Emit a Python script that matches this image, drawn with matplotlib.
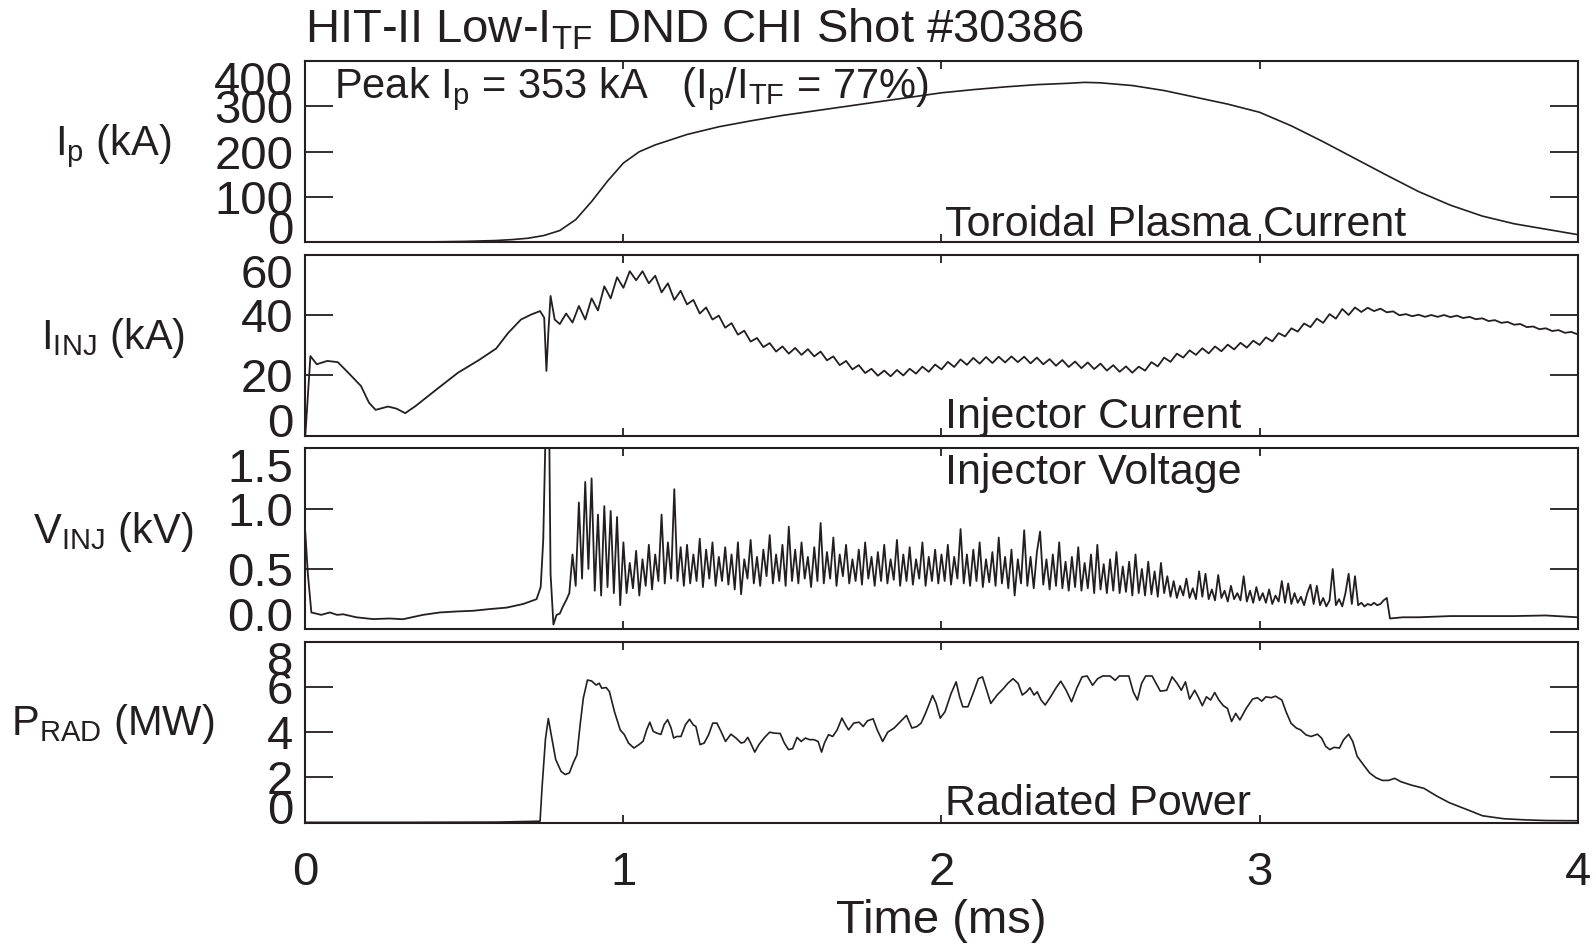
import numpy as np
import matplotlib
matplotlib.use("Agg")
import matplotlib.pyplot as plt
from matplotlib.transforms import ScaledTranslation

plt.rcParams['font.family'] = ['Liberation Sans', 'DejaVu Sans']
plt.rcParams['mathtext.fontset'] = 'custom'
plt.rcParams['mathtext.rm'] = 'Liberation Sans'
plt.rcParams['mathtext.it'] = 'Liberation Sans'
plt.rcParams['mathtext.default'] = 'regular'

# --- toroidal plasma current (kA) ---
ip_t = [0.0, 0.2, 0.4, 0.5, 0.6, 0.65, 0.7, 0.75, 0.8, 0.85,
        0.9, 0.95, 1.0, 1.05, 1.1, 1.2, 1.3, 1.4, 1.5, 1.6,
        1.7, 1.8, 1.9, 2.0, 2.1, 2.2, 2.3, 2.4, 2.45, 2.5,
        2.6, 2.7, 2.8, 2.9, 3.0, 3.1, 3.2, 3.3, 3.4, 3.5,
        3.6, 3.7, 3.8, 3.9, 4.0]
ip_ka = [0, 0.5, 1, 2, 4, 6, 9, 15, 26, 50,
         90, 135, 175, 200, 215, 238, 255, 268, 280, 290,
         300, 310, 320, 330, 337, 343, 348, 351, 353, 352,
         346, 335, 320, 305, 287, 257, 222, 185, 148, 112,
         82, 58, 41, 29, 17]

# --- injector current (kA): start-up part, then 0.02 ms samples from 0.80 ms ---
iinj_t_early = [0.0, 0.016, 0.036, 0.069, 0.102, 0.135, 0.175, 0.2, 0.221, 0.26,
                0.287, 0.314, 0.347, 0.413, 0.48, 0.546, 0.6, 0.638, 0.678, 0.711,
                0.738, 0.751, 0.758, 0.764, 0.771, 0.784]
iinj_early = [0.0, 26.4, 23.7, 24.8, 24.4, 20.9, 16.5, 11.0, 8.6, 9.7,
              9.0, 7.5, 9.9, 15.4, 20.9, 25.1, 28.9, 34.1, 38.5, 40.2,
              41.3, 39.1, 21.5, 34.1, 46.3, 38.5]
iinj_late = [37.0, 40.5, 37.5, 43.0, 38.5, 45.5, 41.5, 49.5, 45.5, 52.5,
             49.0, 54.5, 51.5, 54.5, 50.5, 53.0, 47.5, 50.5, 45.0, 48.0,
             43.5, 45.0, 40.5, 42.5, 38.5, 39.8, 35.8, 37.3, 33.5, 34.8,
             31.2, 32.4, 29.4, 30.7, 27.9, 29.6, 27.2, 29.1, 26.8, 28.7,
             26.3, 27.9, 25.0, 26.3, 23.4, 24.8, 22.0, 23.4, 20.8, 22.2,
             19.9, 21.6, 19.7, 21.8, 20.0, 22.2, 20.6, 22.9, 21.2, 23.6,
             22.0, 24.5, 22.8, 25.3, 23.5, 25.8, 23.9, 26.1, 24.1, 26.2,
             24.3, 26.3, 24.4, 26.2, 24.0, 25.9, 23.7, 25.4, 23.2, 25.1,
             22.8, 24.6, 22.4, 24.3, 22.1, 23.9, 21.6, 23.4, 21.2, 23.0,
             20.9, 22.9, 21.6, 24.4, 23.0, 25.9, 24.5, 27.2, 25.9, 28.3,
             26.8, 29.0, 27.3, 29.6, 28.0, 30.2, 28.6, 30.8, 29.2, 31.5,
             30.1, 32.6, 31.3, 34.0, 32.9, 35.6, 34.5, 37.2, 36.0, 38.8,
             37.4, 40.3, 38.8, 42.0, 40.0, 42.5, 41.0, 42.4, 41.3, 42.1,
             40.9, 41.2, 39.9, 40.3, 39.6, 40.1, 39.4, 40.0, 39.4, 40.0,
             39.3, 39.8, 39.0, 39.4, 38.6, 38.9, 38.0, 38.3, 37.4, 37.7,
             36.8, 37.0, 36.0, 36.2, 35.3, 35.6, 34.7, 35.0, 34.1, 34.4,
             33.6]

# --- injector voltage (kV): start-up, 0.01 ms samples 0.80-3.40 ms, tail ---
vinj_t_early = [0.0, 0.008, 0.019, 0.035, 0.05, 0.077, 0.1, 0.119, 0.16, 0.213,
                0.265, 0.307, 0.37, 0.423, 0.475, 0.528, 0.58, 0.633, 0.685, 0.727,
                0.74, 0.748, 0.755, 0.767, 0.771, 0.78, 0.79]
vinj_early = [0.80, 0.46, 0.14, 0.13, 0.12, 0.14, 0.12, 0.125, 0.10, 0.085,
              0.09, 0.084, 0.12, 0.14, 0.148, 0.154, 0.168, 0.18, 0.21, 0.25,
              0.35, 0.74, 1.6, 1.6, 0.46, 0.04, 0.12]
vinj_mid = [0.13, 0.19, 0.24, 0.30, 0.62, 0.36, 1.05, 0.42, 1.22, 0.50,
            1.25, 0.32, 0.95, 0.28, 1.02, 0.35, 0.98, 0.30, 0.93, 0.20,
            0.72, 0.30, 0.55, 0.34, 0.65, 0.28, 0.58, 0.36, 0.70, 0.33,
            0.62, 0.40, 0.95, 0.38, 0.72, 0.42, 1.16, 0.40, 0.68, 0.36,
            0.70, 0.38, 0.62, 0.40, 0.75, 0.35, 0.66, 0.42, 0.72, 0.36,
            0.60, 0.40, 0.68, 0.37, 0.62, 0.33, 0.72, 0.29, 0.58, 0.42,
            0.74, 0.38, 0.60, 0.36, 0.66, 0.44, 0.78, 0.38, 0.62, 0.40,
            0.70, 0.36, 0.85, 0.40, 0.66, 0.38, 0.72, 0.42, 0.60, 0.35,
            0.68, 0.40, 0.88, 0.38, 0.64, 0.42, 0.76, 0.36, 0.62, 0.44,
            0.70, 0.38, 0.58, 0.40, 0.66, 0.37, 0.72, 0.42, 0.60, 0.36,
            0.64, 0.40, 0.70, 0.38, 0.58, 0.41, 0.74, 0.36, 0.62, 0.40,
            0.68, 0.37, 0.58, 0.42, 0.72, 0.36, 0.60, 0.40, 0.66, 0.38,
            0.62, 0.40, 0.70, 0.37, 0.60, 0.42, 0.83, 0.38, 0.62, 0.36,
            0.66, 0.40, 0.72, 0.35, 0.58, 0.39, 0.64, 0.36, 0.76, 0.38,
            0.60, 0.34, 0.66, 0.28, 0.58, 0.38, 0.82, 0.36, 0.60, 0.34,
            0.64, 0.81, 0.37, 0.58, 0.33, 0.62, 0.36, 0.72, 0.34, 0.56,
            0.32, 0.60, 0.35, 0.68, 0.32, 0.55, 0.34, 0.62, 0.30, 0.70,
            0.33, 0.54, 0.30, 0.58, 0.32, 0.64, 0.30, 0.52, 0.31, 0.56,
            0.28, 0.62, 0.30, 0.50, 0.28, 0.56, 0.29, 0.48, 0.27, 0.55,
            0.30, 0.44, 0.27, 0.40, 0.26, 0.36, 0.28, 0.42, 0.26, 0.34,
            0.25, 0.48, 0.27, 0.46, 0.25, 0.33, 0.24, 0.45, 0.26, 0.32,
            0.23, 0.36, 0.25, 0.30, 0.24, 0.44, 0.23, 0.32, 0.22, 0.35,
            0.24, 0.30, 0.22, 0.33, 0.21, 0.28, 0.23, 0.40, 0.22, 0.38,
            0.21, 0.30, 0.22, 0.27, 0.20, 0.30, 0.37, 0.21, 0.36, 0.20,
            0.26, 0.19, 0.24, 0.50, 0.20, 0.25, 0.19, 0.30, 0.46, 0.21,
            0.44, 0.20, 0.22, 0.19, 0.21, 0.20, 0.22, 0.20, 0.21, 0.24,
            0.26]
vinj_t_tail = [3.41, 3.45, 3.5, 3.6, 3.7, 3.8, 3.9, 4.0]
vinj_tail = [0.09, 0.10, 0.10, 0.11, 0.11, 0.11, 0.115, 0.10]

# --- radiated power (MW) ---
prad_t = [0.0, 0.3, 0.6, 0.738,
          0.744, 0.755, 0.764, 0.773, 0.787, 0.804, 0.817, 0.83, 0.844, 0.854,
          0.864, 0.874, 0.887, 0.9, 0.914, 0.924, 0.932, 0.946, 0.956, 0.972,
          0.99, 1.003, 1.016, 1.033, 1.049, 1.062, 1.073, 1.083, 1.094, 1.105,
          1.118, 1.128, 1.139, 1.15, 1.158, 1.168, 1.181, 1.195, 1.208, 1.219,
          1.228, 1.241, 1.254, 1.268, 1.281, 1.294, 1.307, 1.321, 1.338, 1.354,
          1.37, 1.38, 1.391, 1.4, 1.413, 1.426, 1.444, 1.46, 1.473, 1.493,
          1.506, 1.519, 1.532, 1.546, 1.559, 1.572, 1.585, 1.599, 1.612, 1.623,
          1.632, 1.645, 1.658, 1.672, 1.687, 1.698, 1.708, 1.724, 1.741, 1.754,
          1.767, 1.785, 1.798, 1.815, 1.831, 1.851, 1.871, 1.89, 1.907, 1.923,
          1.936, 1.95, 1.972, 1.983, 1.996, 2.011, 2.03, 2.046, 2.057, 2.067,
          2.083, 2.099, 2.116, 2.129, 2.142, 2.155, 2.175, 2.195, 2.208, 2.225,
          2.241, 2.254, 2.267, 2.278, 2.291, 2.301, 2.313, 2.326, 2.343, 2.359,
          2.375, 2.392, 2.409, 2.425, 2.442, 2.458, 2.475, 2.491, 2.507, 2.53,
          2.546, 2.559, 2.576, 2.589, 2.603, 2.616, 2.629, 2.642, 2.662, 2.675,
          2.688, 2.708, 2.725, 2.741, 2.754, 2.767, 2.78, 2.796, 2.807, 2.82,
          2.833, 2.846, 2.859, 2.872, 2.886, 2.899, 2.912, 2.925, 2.938, 2.958,
          2.978, 2.993, 3.007, 3.02, 3.037, 3.05, 3.07, 3.083, 3.099, 3.116,
          3.129, 3.146, 3.162, 3.182, 3.195, 3.208, 3.221, 3.234, 3.251, 3.264,
          3.28, 3.293, 3.307, 3.326, 3.346, 3.366, 3.386, 3.405, 3.425, 3.445,
          3.478, 3.517, 3.557, 3.596, 3.649, 3.701, 3.767, 3.833, 3.899, 4.0]
prad_mw = [0.02, 0.02, 0.03, 0.07,
           1.5, 3.7, 4.6, 3.9, 2.8, 2.27, 2.13, 2.2, 2.7, 3.0,
           4.33, 5.5, 6.3, 6.26, 6.08, 6.16, 5.94, 5.97, 5.79, 4.9,
           4.1, 3.89, 3.52, 3.3, 3.45, 3.6, 4.1, 4.44, 4.03, 3.96,
           3.9, 4.33, 4.55, 4.18, 3.74, 3.81, 3.81, 4.33, 4.57, 4.33,
           4.25, 3.45, 3.52, 3.89, 4.4, 4.4, 4.03, 3.59, 3.91, 3.74,
           3.52, 3.56, 3.77, 3.52, 3.12, 3.45, 3.77, 4.0, 3.96, 3.94,
           3.52, 3.23, 3.27, 3.77, 3.59, 3.74, 3.67, 3.67, 3.59, 3.12,
           3.52, 3.89, 3.81, 4.1, 4.62, 4.33, 4.1, 4.4, 4.44, 4.25,
           4.5, 4.59, 4.1, 3.59, 4.0, 4.18, 4.47, 4.74, 4.18, 4.25,
           4.4, 4.84, 5.62, 5.28, 4.62, 4.9, 5.7, 6.22, 5.56, 5.12,
           5.12, 5.7, 6.36, 6.44, 5.85, 5.27, 5.64, 5.93, 6.15, 6.36,
           6.15, 5.64, 5.78, 5.96, 5.64, 5.78, 5.42, 5.2, 5.56, 5.93,
           6.25, 5.85, 5.34, 5.93, 6.44, 6.48, 6.07, 6.36, 6.48, 6.48,
           6.29, 6.48, 6.48, 6.48, 5.78, 5.42, 6.15, 6.48, 6.48, 6.15,
           5.81, 5.85, 6.44, 6.15, 5.85, 6.22, 5.46, 5.85, 5.56, 5.17,
           5.56, 5.42, 5.75, 5.42, 5.17, 5.05, 4.47, 4.83, 4.54, 5.05,
           5.46, 5.52, 5.37, 5.56, 5.52, 5.59, 5.42, 4.91, 4.39, 4.18,
           4.1, 3.88, 3.81, 3.91, 3.74, 3.37, 3.23, 3.33, 3.3, 3.66,
           3.91, 3.59, 2.93, 2.57, 2.2, 1.99, 1.87, 1.87, 1.96, 1.81,
           1.66, 1.52, 1.18, 0.89, 0.6, 0.31, 0.18, 0.13, 0.1, 0.09]

x_ticks = [0, 1, 2, 3, 4]
x_tick_labels = ['0', '1', '2', '3', '4']

LINE = '#231f20'
FS = 30        # panel names and captions
FS_BIG = 34    # title, tick labels, x axis title


def main():
    iinj_t = list(iinj_t_early) + list(0.80 + 0.02 * np.arange(len(iinj_late)))
    iinj = list(iinj_early) + list(iinj_late)
    vinj_t = (list(vinj_t_early) + list(0.80 + 0.01 * np.arange(len(vinj_mid)))
              + list(vinj_t_tail))
    vinj = list(vinj_early) + list(vinj_mid) + list(vinj_tail)

    panels = [
        dict(t=ip_t, y=ip_ka, ylim=(0, 400), ticks=[0, 100, 200, 300, 400],
             labels=['0', '100', '200', '300', '400'],
             name=r'I$_p$ (kA)', name_y=0.836,
             note='Toroidal Plasma Current', note_y=13.5, lw=1.2),
        dict(t=iinj_t, y=iinj, ylim=(0, 60), ticks=[0, 20, 40, 60],
             labels=['0', '20', '40', '60'],
             name=r'I$_{INJ}$ (kA)', name_y=0.630,
             note='Injector Current', note_y=2.7, lw=1.3),
        dict(t=vinj_t, y=vinj, ylim=(0, 1.5), ticks=[0, 0.5, 1.0, 1.5],
             labels=['0.0', '0.5', '1.0', '1.5'],
             name=r'V$_{INJ}$ (kV)', name_y=0.425,
             note='Injector Voltage', note_y=1.205, lw=1.3),
        dict(t=prad_t, y=prad_mw, ylim=(0, 8), ticks=[0, 2, 4, 6, 8],
             labels=['0', '2', '4', '6', '8'],
             name=r'P$_{RAD}$ (MW)', name_y=0.221,
             note='Radiated Power', note_y=0.36, lw=1.2),
    ]

    fig = plt.figure(figsize=(15.96, 9.44), dpi=100)
    left, width, height = 0.1913, 0.7972, 0.192
    bottoms = [0.7433, 0.5383, 0.3333, 0.1284]

    for i, (p, b) in enumerate(zip(panels, bottoms)):
        ax = fig.add_axes([left, b, width, height])
        ax.plot(p['t'], p['y'], color=LINE, lw=p['lw'])
        ax.set_xlim(0, 4)
        ax.set_ylim(*p['ylim'])
        for s in ax.spines.values():
            s.set_linewidth(1.5)
            s.set_color(LINE)

        ax.set_yticks(p['ticks'])
        ax.set_yticklabels([])
        ax.tick_params(axis='y', direction='in', length=20, width=1.3,
                       left=True, right=True, colors=LINE)
        ax.set_xticks(x_ticks)
        ax.tick_params(axis='x', direction='in', length=6, width=1.3,
                       top=True, bottom=True, colors=LINE, pad=20,
                       labelsize=FS_BIG, labelcolor=LINE)
        if i == len(panels) - 1:
            ax.set_xticklabels(x_tick_labels)
        else:
            ax.set_xticklabels([])

        # y tick labels, end labels pulled inside the frame as in the original
        n = len(p['ticks'])
        for k, (v, lab) in enumerate(zip(p['ticks'], p['labels'])):
            dy = 0.0
            if k == 0:
                dy = 0.155
            elif k == n - 1:
                dy = -0.165
            tr = ax.get_yaxis_transform() + ScaledTranslation(-0.12, dy, fig.dpi_scale_trans)
            ax.text(0, v, lab, transform=tr, ha='right', va='center_baseline',
                    fontsize=FS_BIG, color=LINE, clip_on=False)

        ax.text(2.01, p['note_y'], p['note'], fontsize=FS + 1, color=LINE,
                ha='left', va='baseline')
        fig.text(0.0708, p['name_y'], p['name'], fontsize=FS, color=LINE,
                 ha='center', va='baseline')

        if i == 0:
            ax.text(0.09, 319, r'Peak I$_p$ = 353 kA   (I$_p$/I$_{TF}$ = 77%)',
                    fontsize=FS, color=LINE, ha='left', va='baseline')

    fig.text(left, 0.9547, r'HIT-II Low-I$_{TF}$ DND CHI Shot #30386',
             fontsize=FS_BIG, color=LINE, ha='left', va='baseline')
    fig.text(left + width / 2, 0.024, 'Time (ms)', fontsize=FS_BIG, color=LINE,
             ha='center', va='center')

    fig.savefig('out.png', dpi=100)


if __name__ == "__main__":
    main()
